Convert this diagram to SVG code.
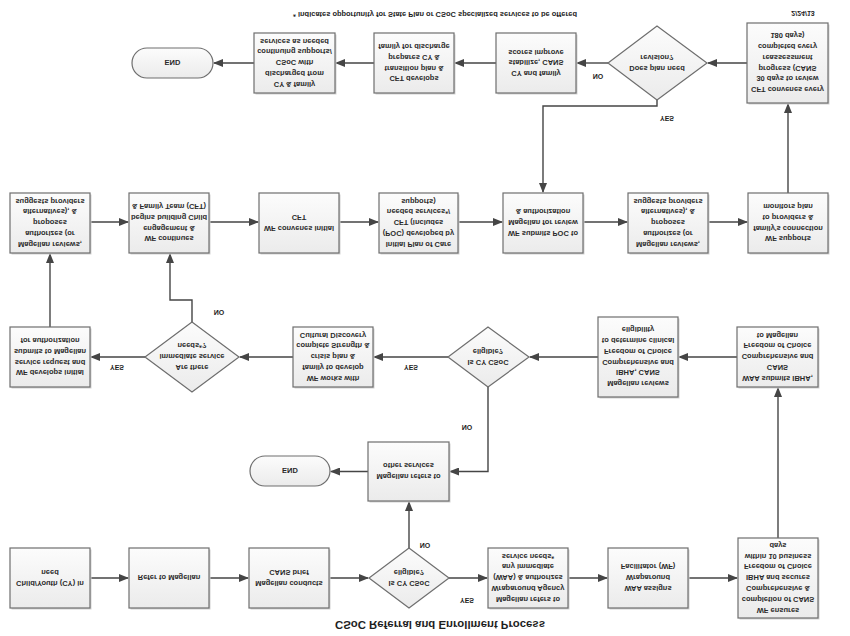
<svg xmlns="http://www.w3.org/2000/svg" width="850" height="636" viewBox="0 0 850 636">
<style>
.bx{fill:url(#gf);stroke:#6e6e6e;stroke-width:1.2}
.sh{fill:#d2d2d2}
.t{font-family:"Liberation Sans",Arial,sans-serif;font-size:7.5px;font-weight:bold;fill:#2a2a2a;text-anchor:middle}
.lb{font-family:"Liberation Sans",Arial,sans-serif;font-size:7px;font-weight:bold;fill:#1e1e1e;text-anchor:middle}
.ln{fill:none;stroke:#454545;stroke-width:1.4}
.ar{marker-end:url(#ah)}
</style>
<defs>
<linearGradient id="gf" x1="0" y1="0" x2="0" y2="1">
<stop offset="0" stop-color="#ebebeb"/>
<stop offset="1" stop-color="#fcfcfc"/>
</linearGradient>
<marker id="ah" markerWidth="10" markerHeight="8" refX="9" refY="4" orient="auto" markerUnits="userSpaceOnUse">
<path d="M0,0 L10,4 L0,8 Z" fill="#454545"/>
</marker>
</defs>
<rect width="850" height="636" fill="#ffffff"/>
<g transform="matrix(1 0 0 -1 0 636)">
<text class="lb" x="440" y="15" style="font-size:11px" textLength="210" lengthAdjust="spacingAndGlyphs">CSoC Referral and Enrollment Process</text>
<text class="lb" x="293" y="624.5" style="text-anchor:start;font-size:6.5px" textLength="284" lengthAdjust="spacingAndGlyphs">* indicates opportunity for State Plan or CSoC specialized services to be offered</text>
<text class="lb" x="803" y="625.5">2/24/13</text>

<g id="connectors">
<path class="ln ar" d="M90,58 H128"/>
<path class="ln ar" d="M209,58 H248"/>
<path class="ln ar" d="M329,58 H368"/>
<path class="ln ar" d="M449,58 H487"/>
<path class="ln ar" d="M568,58 H607"/>
<path class="ln ar" d="M688,58 H737"/>
<path class="ln ar" d="M409,88 V134"/>
<path class="ln ar" d="M368,164.5 H331"/>
<path class="ln ar" d="M488,249 V164.5 H450"/>
<path class="ln ar" d="M778,98 V248"/>
<path class="ln ar" d="M737,279 H679"/>
<path class="ln ar" d="M598,279 H530"/>
<path class="ln ar" d="M448,279 H374"/>
<path class="ln ar" d="M293,279 H240"/>
<path class="ln ar" d="M145,279 H91"/>
<path class="ln ar" d="M192,314 V336 H170 V382"/>
<path class="ln ar" d="M50,309 V382"/>
<path class="ln ar" d="M90,414 H128"/>
<path class="ln ar" d="M209,414 H258"/>
<path class="ln ar" d="M339,414 H378"/>
<path class="ln ar" d="M458,414 H502"/>
<path class="ln ar" d="M583,414 H627"/>
<path class="ln ar" d="M708,414 H747"/>
<path class="ln ar" d="M788,443 V532"/>
<path class="ln ar" d="M747,573 H708"/>
<path class="ln ar" d="M657,536 V530 H543 V444"/>
<path class="ln ar" d="M608,573 H577"/>
<path class="ln ar" d="M496,573 H455"/>
<path class="ln ar" d="M374,573 H336"/>
<path class="ln ar" d="M254,573 H214"/>
<text class="lb" x="467" y="38.5">YES</text>
<text class="lb" x="425" y="93.5">NO</text>
<text class="lb" x="467" y="211.5">NO</text>
<text class="lb" x="117" y="271.5">YES</text>
<text class="lb" x="411" y="271.5">YES</text>
<text class="lb" x="219" y="326.5">NO</text>
<text class="lb" x="667" y="520.5">YES</text>
<text class="lb" x="598" y="562.5">NO</text>
</g>

<g id="n1"><rect class="sh" x="11.5" y="26.5" width="80" height="60"/><rect class="bx" x="10" y="28" width="80" height="60"/>
<text class="t" x="50" y="55.4">Child/Youth (CY) in</text><text class="t" x="50" y="66.2">need</text></g>
<g id="n2"><rect class="sh" x="130.5" y="26.5" width="80" height="60"/><rect class="bx" x="129" y="28" width="80" height="60"/>
<text class="t" x="169" y="60.8">Refer to Magellan</text></g>
<g id="n3"><rect class="sh" x="250.5" y="26.5" width="80" height="60"/><rect class="bx" x="249" y="28" width="80" height="60"/>
<text class="t" x="289" y="55.4">Magellan conducts</text><text class="t" x="289" y="66.2">CANS brief</text></g>
<g id="d1"><polygon class="bx" points="369,58 409,28 449,58 409,88"/>
<text class="t" x="409" y="55.4">Is CY CSoC</text><text class="t" x="409" y="66.2">eligible?</text></g>
<g id="n4"><rect class="sh" x="489.5" y="26.5" width="80" height="60"/><rect class="bx" x="488" y="28" width="80" height="60"/>
<text class="t" x="528" y="39.2">Magellan refers to</text><text class="t" x="528" y="50">Wraparound Agency</text><text class="t" x="528" y="60.8">(WAA) &amp; authorizes</text><text class="t" x="528" y="71.6">any immediate</text><text class="t" x="528" y="82.4">service needs*</text></g>
<g id="n5"><rect class="sh" x="609.5" y="26.5" width="80" height="60"/><rect class="bx" x="608" y="28" width="80" height="60"/>
<text class="t" x="648" y="50">WAA assigns</text><text class="t" x="648" y="60.8">Wraparound</text><text class="t" x="648" y="71.6">Facilitator (WF)</text></g>
<g id="n6"><rect class="sh" x="739.5" y="16.5" width="80" height="80"/><rect class="bx" x="738" y="18" width="80" height="80"/>
<text class="t" x="778" y="28.4">WF ensures</text><text class="t" x="778" y="39.2">completion of CANS</text><text class="t" x="778" y="50">Comprehensive &amp;</text><text class="t" x="778" y="60.8">IBHA and secures</text><text class="t" x="778" y="71.6">Freedom of Choice</text><text class="t" x="778" y="82.4">within 10 business</text><text class="t" x="778" y="93.2">days</text></g>
<g id="n7"><rect class="sh" x="369.5" y="133.5" width="81" height="59"/><rect class="bx" x="368" y="135" width="81" height="59"/>
<text class="t" x="408.5" y="161.9">Magellan refers to</text><text class="t" x="408.5" y="172.7">other services</text></g>
<g id="e1"><rect class="bx" x="250" y="150" width="80" height="30" rx="15"/>
<text class="t" x="290" y="167.8">END</text></g>

<g id="n8"><rect class="sh" x="11.5" y="247.5" width="80" height="60"/><rect class="bx" x="10" y="249" width="80" height="60"/>
<text class="t" x="50" y="265.6">WF develops initial</text><text class="t" x="50" y="276.4">service request and</text><text class="t" x="50" y="287.2">submits to Magellan</text><text class="t" x="50" y="298">for authorization</text></g>
<g id="d3"><polygon class="bx" points="145,279 192,244 239,279 192,314"/>
<text class="t" x="192" y="271">Are there</text><text class="t" x="192" y="281.8">immediate service</text><text class="t" x="192" y="292.6">needs*?</text></g>
<g id="n9"><rect class="sh" x="294.5" y="247.5" width="80" height="60"/><rect class="bx" x="293" y="249" width="80" height="60"/>
<text class="t" x="333" y="260.2">WF works with</text><text class="t" x="333" y="271">family to develop</text><text class="t" x="333" y="281.8">crisis plan &amp;</text><text class="t" x="333" y="292.6">complete Strength &amp;</text><text class="t" x="333" y="303.4">Cultural Discovery</text></g>
<g id="d2"><polygon class="bx" points="448,279 488,249 529,279 488,309"/>
<text class="t" x="488" y="276.4">Is CY CSoC</text><text class="t" x="488" y="287.2">eligible?</text></g>
<g id="n10"><rect class="sh" x="599.5" y="237.5" width="80" height="80"/><rect class="bx" x="598" y="239" width="80" height="80"/>
<text class="t" x="638" y="254.8">Magellan reviews</text><text class="t" x="638" y="265.6">IBHA, CANS</text><text class="t" x="638" y="276.4">Comprehensive and</text><text class="t" x="638" y="287.2">Freedom of Choice</text><text class="t" x="638" y="298">to determine clinical</text><text class="t" x="638" y="308.8">eligibility</text></g>
<g id="n11"><rect class="sh" x="738.5" y="247.5" width="81" height="60"/><rect class="bx" x="737" y="249" width="81" height="60"/>
<text class="t" x="777.5" y="260.2">WAA submits IBHA,</text><text class="t" x="777.5" y="271">CANS</text><text class="t" x="777.5" y="281.8">Comprehensive and</text><text class="t" x="777.5" y="292.6">Freedom of Choice</text><text class="t" x="777.5" y="303.4">to Magellan</text></g>

<g id="n12"><rect class="sh" x="11.5" y="381.5" width="80" height="60"/><rect class="bx" x="10" y="383" width="80" height="60"/>
<text class="t" x="50" y="394.2">Magellan reviews,</text><text class="t" x="50" y="405">authorizes (or</text><text class="t" x="50" y="415.8">proposes</text><text class="t" x="50" y="426.6">alternatives), &amp;</text><text class="t" x="50" y="437.4">suggests providers</text></g>
<g id="n13"><rect class="sh" x="130.5" y="381.5" width="80" height="60"/><rect class="bx" x="129" y="383" width="80" height="60"/>
<text class="t" x="169" y="399.6">WF continues</text><text class="t" x="169" y="410.4">engagement &amp;</text><text class="t" x="169" y="421.2">begins building Child</text><text class="t" x="169" y="432">&amp; Family Team (CFT)</text></g>
<g id="n14"><rect class="sh" x="260.5" y="381.5" width="80" height="60"/><rect class="bx" x="259" y="383" width="80" height="60"/>
<text class="t" x="299" y="410.4">WF convenes initial</text><text class="t" x="299" y="421.2">CFT</text></g>
<g id="n15"><rect class="sh" x="380.5" y="381.5" width="79" height="60"/><rect class="bx" x="379" y="383" width="79" height="60"/>
<text class="t" x="418.5" y="394.2">Initial Plan of Care</text><text class="t" x="418.5" y="405">(POC) developed by</text><text class="t" x="418.5" y="415.8">CFT (includes</text><text class="t" x="418.5" y="426.6">needed services*/</text><text class="t" x="418.5" y="437.4">supports)</text></g>
<g id="n16"><rect class="sh" x="504.5" y="381.5" width="80" height="60"/><rect class="bx" x="503" y="383" width="80" height="60"/>
<text class="t" x="543" y="405">WF submits POC to</text><text class="t" x="543" y="415.8">Magellan for review</text><text class="t" x="543" y="426.6">&amp; authorization</text></g>
<g id="n17"><rect class="sh" x="629.5" y="381.5" width="80" height="60"/><rect class="bx" x="628" y="383" width="80" height="60"/>
<text class="t" x="668" y="394.2">Magellan reviews,</text><text class="t" x="668" y="405">authorizes (or</text><text class="t" x="668" y="415.8">proposes</text><text class="t" x="668" y="426.6">alternatives), &amp;</text><text class="t" x="668" y="437.4">suggests providers</text></g>
<g id="n18"><rect class="sh" x="749.5" y="381.5" width="80" height="60"/><rect class="bx" x="748" y="383" width="80" height="60"/>
<text class="t" x="788" y="399.6">WF supports</text><text class="t" x="788" y="410.4">family's connection</text><text class="t" x="788" y="421.2">to providers &amp;</text><text class="t" x="788" y="432">monitors plan</text></g>

<g id="n19"><rect class="sh" x="748.5" y="531.5" width="81" height="80"/><rect class="bx" x="747" y="533" width="81" height="80"/>
<text class="t" x="787.5" y="548.8">CFT convenes every</text><text class="t" x="787.5" y="559.6">30 days to review</text><text class="t" x="787.5" y="570.4">progress (CANS</text><text class="t" x="787.5" y="581.2">reassessment</text><text class="t" x="787.5" y="592">completed every</text><text class="t" x="787.5" y="602.8">180 days)</text></g>
<g id="d4"><polygon class="bx" points="608,573 657,536 707,573 657,610"/>
<text class="t" x="657" y="570.4">Does plan need</text><text class="t" x="657" y="581.2">revision?</text></g>
<g id="n20"><rect class="sh" x="497.5" y="541.5" width="80" height="60"/><rect class="bx" x="496" y="543" width="80" height="60"/>
<text class="t" x="536" y="564.8">CY and family</text><text class="t" x="536" y="575.6">stabilize, CANS</text><text class="t" x="536" y="586.4">scores improve</text></g>
<g id="n21"><rect class="sh" x="375.5" y="541.5" width="80" height="60"/><rect class="bx" x="374" y="543" width="80" height="60"/>
<text class="t" x="414" y="559.6">CFT develops</text><text class="t" x="414" y="570.4">transition plan &amp;</text><text class="t" x="414" y="581.2">prepares CY &amp;</text><text class="t" x="414" y="592">family for discharge</text></g>
<g id="n22"><rect class="sh" x="255.5" y="541.5" width="81" height="60"/><rect class="bx" x="254" y="543" width="81" height="60"/>
<text class="t" x="294.5" y="554.2">CY &amp; family</text><text class="t" x="294.5" y="565">discharged from</text><text class="t" x="294.5" y="575.8">CSoC with</text><text class="t" x="294.5" y="586.6">continuing supports/</text><text class="t" x="294.5" y="597.4">services as needed</text></g>
<g id="e2"><rect class="bx" x="132" y="558" width="81" height="30" rx="15"/>
<text class="t" x="172.5" y="575.8">END</text></g>
</g>
</svg>
